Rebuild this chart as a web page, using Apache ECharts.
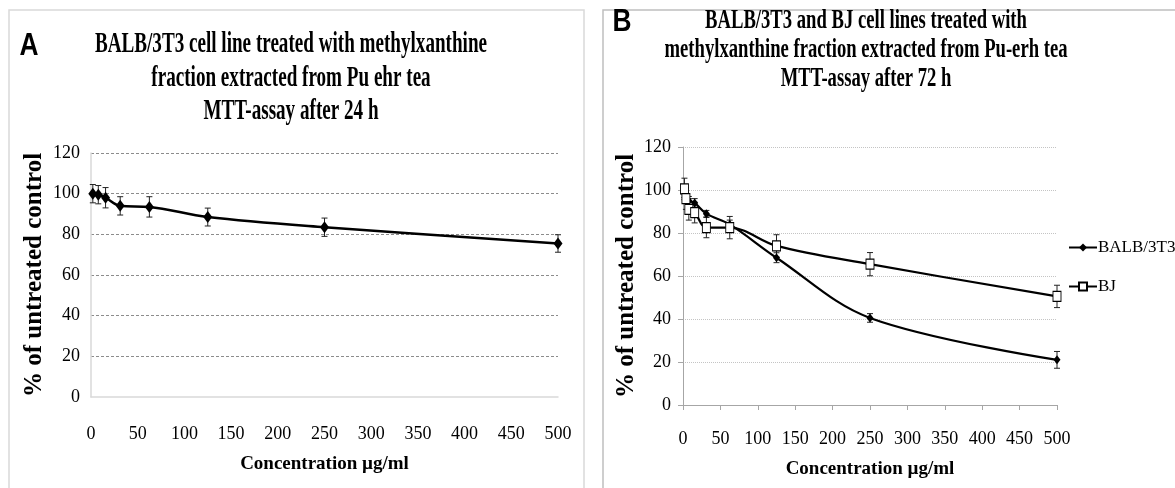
<!DOCTYPE html>
<html>
<head>
<meta charset="utf-8">
<script src="https://cdn.jsdelivr.net/npm/echarts@6/dist/echarts.min.js"></script>
<style>html,body{margin:0;padding:0;background:#fff}#c{width:1175px;height:488px}</style>
</head>
<body>
<div id="c"></div>
<script>
// Panel A: BALB/3T3, 24 h
const concA = [1.95, 7.8, 15.6, 31.25, 62.5, 125, 250, 500];
const balbA = [100, 99.5, 98, 94, 93.5, 88.5, 83.5, 75.5];
const errBalbA = [4.5, 4.5, 5, 4.5, 5, 4.4, 4.5, 4.3];
// Panel B: BALB/3T3 and BJ, 72 h
const concB = [1.95, 3.9, 7.8, 15.6, 31.25, 62.5, 125, 250, 500];
const balbB = [98.5, 96, 95, 94, 89, 84, 68.5, 40.5, 21];
const errBalbB = [2, 2, 2, 2, 1.5, 2, 2.3, 2, 3.9];
const bjB = [100.5, 96, 91, 89.5, 82.5, 82.5, 74, 65.5, 50.5];
const errBjB = [5, 5, 5, 4.8, 4.7, 5.2, 5.2, 5.4, 5.2];
const seriesNames = ['BALB/3T3', 'BJ'];
const titleA = ['BALB/3T3 cell line treated with methylxanthine', 'fraction extracted from Pu ehr tea', 'MTT-assay after 24 h'];
const titleB = ['BALB/3T3 and BJ cell lines treated with', 'methylxanthine fraction extracted from Pu-erh tea', 'MTT-assay after 72 h'];
const xName = 'Concentration µg/ml';
const yName = '% of untreated control';

const SERIF = '"Liberation Serif", "Times New Roman", serif';
const cv = document.createElement('canvas').getContext('2d');
function measure(t, font) { cv.font = font; return cv.measureText(t).width; }

// scale all lines of a title so that line `ref` gets width targetW
function titleTexts(lines, cx, ys, size, ref, targetW) {
  const font = 'bold ' + size + 'px ' + SERIF;
  const sx = targetW / measure(lines[ref], font);
  return lines.map((t, i) => ({
    type: 'text', x: cx, y: ys[i], scaleX: sx, originX: 0,
    style: { text: t, font: font, fill: '#000', align: 'center', verticalAlign: 'middle' }
  }));
}

function errSeries(xs, ys, es, idx, name) {
  return {
    type: 'custom', name: name, xAxisIndex: idx, yAxisIndex: idx, z: 1, silent: true,
    encode: { x: 0, y: [1, 2] },
    data: xs.map((x, i) => [x, ys[i] - es[i], ys[i] + es[i]]),
    renderItem: function (params, api) {
      const lo = api.coord([api.value(0), api.value(1)]);
      const hi = api.coord([api.value(0), api.value(2)]);
      const w = 3, st = { stroke: '#222', lineWidth: 1 };
      return { type: 'group', children: [
        { type: 'line', shape: { x1: lo[0], y1: lo[1], x2: hi[0], y2: hi[1] }, style: st },
        { type: 'line', shape: { x1: lo[0] - w, y1: lo[1], x2: lo[0] + w, y2: lo[1] }, style: st },
        { type: 'line', shape: { x1: hi[0] - w, y1: hi[1], x2: hi[0] + w, y2: hi[1] }, style: st }
      ]};
    }
  };
}

const labelStyle = { fontFamily: SERIF, fontSize: 18, color: '#000' };
const nameStyle = { fontFamily: SERIF, fontSize: 19, fontWeight: 'bold', color: '#000' };
const yNameStyle = { fontFamily: SERIF, fontSize: 25, fontWeight: 'bold', color: '#000' };

const chart = echarts.init(document.getElementById('c'));
const option = {
  backgroundColor: '#fff',
  animation: false,
  grid: [
    { left: 91, right: 1175 - 558, top: 153, bottom: 488 - 397 },
    { left: 683, right: 1175 - 1057, top: 147, bottom: 488 - 405 }
  ],
  xAxis: [
    { type: 'value', gridIndex: 0, min: 0, max: 500, interval: 50,
      axisLine: { show: true, lineStyle: { color: '#d9d9d9', width: 1.5 } },
      axisTick: { show: false }, splitLine: { show: false },
      axisLabel: Object.assign({ margin: 28 }, labelStyle),
      name: xName, nameLocation: 'middle', nameGap: 58, nameTextStyle: nameStyle },
    { type: 'value', gridIndex: 1, min: 0, max: 500, interval: 50,
      axisLine: { show: true, lineStyle: { color: '#a6a6a6', width: 1 } },
      axisTick: { show: true, length: 5, lineStyle: { color: '#a6a6a6' } }, splitLine: { show: false },
      axisLabel: Object.assign({ margin: 25 }, labelStyle),
      name: xName, nameLocation: 'middle', nameGap: 55, nameTextStyle: nameStyle }
  ],
  yAxis: [
    { type: 'value', gridIndex: 0, min: 0, max: 120, interval: 20,
      axisLine: { show: true, lineStyle: { color: '#d9d9d9', width: 1.5 } },
      axisTick: { show: false },
      splitLine: { show: true, showMinLine: false, lineStyle: { color: '#8c8c8c', type: [3, 2], width: 1 } },
      axisLabel: Object.assign({ margin: 11 }, labelStyle),
      name: yName, nameLocation: 'middle', nameGap: 44, nameTextStyle: yNameStyle },
    { type: 'value', gridIndex: 1, min: 0, max: 120, interval: 20,
      axisLine: { show: true, lineStyle: { color: '#a6a6a6', width: 1 } },
      axisTick: { show: true, length: 5, lineStyle: { color: '#a6a6a6' } },
      splitLine: { show: true, showMinLine: false, lineStyle: { color: '#c4c4c4', type: [1, 1], width: 1 } },
      axisLabel: Object.assign({ margin: 12 }, labelStyle),
      name: yName, nameLocation: 'middle', nameGap: 44, nameTextStyle: yNameStyle }
  ],
  legend: {
    data: seriesNames, orient: 'vertical', left: 1063, top: 234, itemGap: 22,
    itemWidth: 28, itemHeight: 10,
    textStyle: { fontFamily: SERIF, fontSize: 17, color: '#000', padding: [0, 0, 0, -4] }
  },
  series: [
    errSeries(concA, balbA, errBalbA, 0, 'errA'),
    { type: 'line', name: 'A', xAxisIndex: 0, yAxisIndex: 0, z: 3, smooth: 0.35,
      data: concA.map((x, i) => [x, balbA[i]]),
      symbol: 'diamond', symbolSize: [9, 12], itemStyle: { color: '#000' },
      lineStyle: { color: '#000', width: 2.5 } },
    errSeries(concB, balbB, errBalbB, 1, 'errB1'),
    errSeries(concB, bjB, errBjB, 1, 'errB2'),
    { type: 'line', name: 'BALB/3T3', xAxisIndex: 1, yAxisIndex: 1, z: 3, smooth: 0.35,
      data: concB.map((x, i) => [x, balbB[i]]),
      symbol: 'diamond', symbolSize: [7, 9], itemStyle: { color: '#000' },
      lineStyle: { color: '#000', width: 2.2 } },
    { type: 'line', name: 'BJ', xAxisIndex: 1, yAxisIndex: 1, z: 4, smooth: 0.35,
      data: concB.map((x, i) => [x, bjB[i]]),
      symbol: 'rect', symbolSize: [8, 10],
      itemStyle: { color: '#fff', borderColor: '#000', borderWidth: 1 },
      lineStyle: { color: '#000', width: 2.2 } }
  ],
  graphic: [
    { type: 'rect', shape: { x: 9, y: 10, width: 575, height: 490 }, style: { fill: 'none', stroke: '#d9d9d9', lineWidth: 1.5 }, z: -1 },
    { type: 'rect', shape: { x: 603, y: 10, width: 600, height: 490 }, style: { fill: 'none', stroke: '#bfbfbf', lineWidth: 1.5 }, z: -1 },
    { type: 'text', x: 29, y: 46, scaleX: 0.85, style: { text: 'A', font: 'bold 31px "Liberation Sans", Arial, sans-serif', fill: '#000', align: 'center', verticalAlign: 'middle' } },
    { type: 'text', x: 622, y: 22, scaleX: 0.85, style: { text: 'B', font: 'bold 31px "Liberation Sans", Arial, sans-serif', fill: '#000', align: 'center', verticalAlign: 'middle' } }
  ].concat(titleTexts(titleA, 291, [45, 79, 112], 29, 0, 392))
   .concat(titleTexts(titleB, 866, [21, 50, 79], 27, 1, 403))
};
chart.setOption(option);
</script>
</body>
</html>
